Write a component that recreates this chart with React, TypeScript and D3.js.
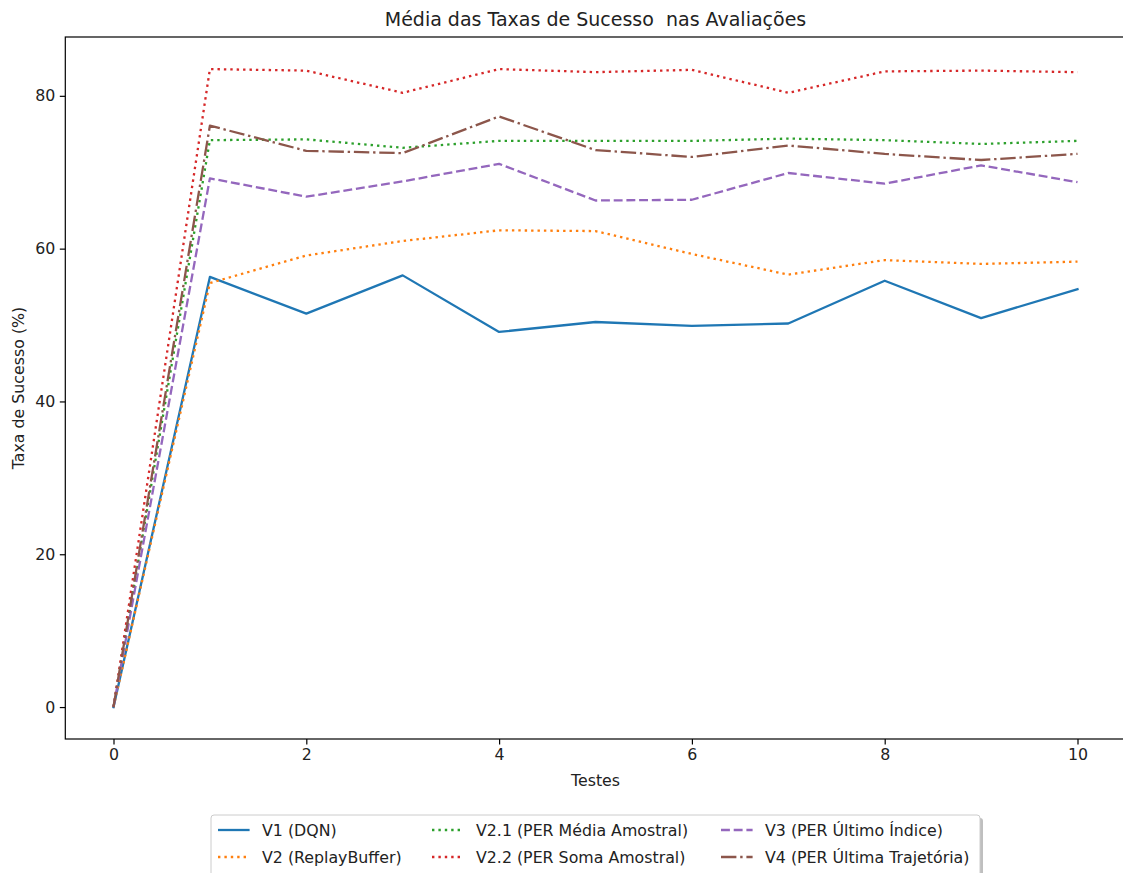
import React, { useEffect, useRef } from "react";
import * as d3 from "d3";

// values
const testes = [0, 1, 2, 3, 4, 5, 6, 7, 8, 9, 10];
const v1 = [0, 56.3, 51.5, 56.5, 49.1, 50.4, 49.9, 50.2, 55.8, 50.9, 54.7];
const v2 = [0, 55.5, 59.1, 61.0, 62.4, 62.3, 59.3, 56.6, 58.5, 58.0, 58.3];
const v21 = [0, 74.2, 74.3, 73.2, 74.1, 74.1, 74.1, 74.4, 74.2, 73.7, 74.1];
const v22 = [0, 83.5, 83.3, 80.4, 83.5, 83.1, 83.4, 80.4, 83.2, 83.3, 83.1];
const v3 = [0, 69.2, 66.8, 68.8, 71.1, 66.3, 66.4, 69.9, 68.5, 70.9, 68.7];
const v4 = [0, 76.1, 72.8, 72.5, 77.3, 72.9, 72.0, 73.5, 72.4, 71.6, 72.4];

const seriesNames = [
  "V1 (DQN)",
  "V2 (ReplayBuffer)",
  "V2.1 (PER Média Amostral)",
  "V2.2 (PER Soma Amostral)",
  "V3 (PER Último Índice)",
  "V4 (PER Última Trajetória)",
];
const seriesValues = [v1, v2, v21, v22, v3, v4];
const colors = ["#1f77b4", "#ff7f0e", "#2ca02c", "#d62728", "#9467bd", "#8c564b"];
const dashes = ["none", "2.4,4", "2.4,4", "2.4,4", "8.9,3.8", "15.4,3.8,2.4,3.8"];
const xTicks = [0, 2, 4, 6, 8, 10];
const yTicks = [0, 20, 40, 60, 80];

const FONT = "DejaVu Sans, sans-serif";
const FS = 15.8; // ticks, labels, legend

function App() {
  const ref = useRef<SVGSVGElement>(null);

  useEffect(() => {
    const svg = d3.select(ref.current);
    svg.selectAll("*").remove();

    // plot box
    var left = 65.3,
      right = 1125.7,
      top = 37,
      bottom = 739;

    var x = d3.scaleLinear().domain([-0.5, 10.5]).range([left, right]);
    var y = d3.scaleLinear().domain([-4.18, 87.7]).range([bottom, top]);

    svg.append("rect").attr("width", 1123).attr("height", 873).attr("fill", "white");

    // lines
    var line = d3
      .line<number>()
      .x((d, i) => x(testes[i]))
      .y(d => y(d));

    seriesValues.forEach((vals, i) => {
      svg
        .append("path")
        .datum(vals)
        .attr("d", line)
        .attr("fill", "none")
        .attr("stroke", colors[i])
        .attr("stroke-width", 2.3)
        .attr("stroke-dasharray", dashes[i])
        .attr("stroke-linejoin", "round")
        .attr("stroke-linecap", i === 0 ? "square" : "butt");
    });

    // spines
    svg
      .append("rect")
      .attr("x", left)
      .attr("y", top)
      .attr("width", right - left)
      .attr("height", bottom - top)
      .attr("fill", "none")
      .attr("stroke", "black")
      .attr("stroke-width", 1.2);

    // axes
    const xAxis = svg
      .append("g")
      .attr("transform", "translate(0," + bottom + ")")
      .call(d3.axisBottom(x).tickValues(xTicks).tickSize(5.5).tickPadding(4.5).tickFormat(d3.format("d")));
    const yAxis = svg
      .append("g")
      .attr("transform", "translate(" + left + ",0)")
      .call(d3.axisLeft(y).tickValues(yTicks).tickSize(5.5).tickPadding(4.5).tickFormat(d3.format("d")));
    [xAxis, yAxis].forEach(a => {
      a.select(".domain").remove();
      a.selectAll("line").attr("stroke", "black").attr("stroke-width", 1.2);
      a.selectAll("text").attr("font-family", FONT).attr("font-size", FS).attr("fill", "#222");
    });

    // title and axis labels
    svg
      .append("text")
      .attr("x", (left + right) / 2)
      .attr("y", 26)
      .attr("text-anchor", "middle")
      .attr("font-family", FONT)
      .attr("font-size", 19)
      .attr("fill", "#222")
      .style("white-space", "pre")
      .text("Média das Taxas de Sucesso  nas Avaliações");
    svg
      .append("text")
      .attr("x", (left + right) / 2)
      .attr("y", 786)
      .attr("text-anchor", "middle")
      .attr("font-family", FONT)
      .attr("font-size", FS)
      .attr("fill", "#222")
      .text("Testes");
    svg
      .append("text")
      .attr("transform", "translate(24," + (top + bottom) / 2 + ") rotate(-90)")
      .attr("text-anchor", "middle")
      .attr("font-family", FONT)
      .attr("font-size", FS)
      .attr("fill", "#222")
      .text("Taxa de Sucesso (%)");

    // legend with shadow
    var lx = 211,
      ly = 815,
      lw = 769,
      lh = 62;
    svg
      .append("rect")
      .attr("x", lx + 3)
      .attr("y", ly + 3)
      .attr("width", lw)
      .attr("height", lh)
      .attr("rx", 3)
      .attr("fill", "#808080")
      .attr("opacity", 0.5);
    svg
      .append("rect")
      .attr("x", lx)
      .attr("y", ly)
      .attr("width", lw)
      .attr("height", lh)
      .attr("rx", 3)
      .attr("fill", "white")
      .attr("stroke", "#cccccc")
      .attr("stroke-width", 1);

    var colX = [218, 432, 721];
    var rowY = [830, 857];
    seriesNames.forEach((name, i) => {
      var col = Math.floor(i / 2),
        row = i % 2;
      var hx = colX[col],
        hy = rowY[row];
      svg
        .append("line")
        .attr("x1", hx)
        .attr("x2", hx + 31.6)
        .attr("y1", hy)
        .attr("y2", hy)
        .attr("stroke", colors[i])
        .attr("stroke-width", 2.3)
        .attr("stroke-dasharray", dashes[i]);
      svg
        .append("text")
        .attr("x", hx + 44)
        .attr("y", hy + 5.5)
        .attr("font-family", FONT)
        .attr("font-size", FS)
        .attr("fill", "#222")
        .text(name);
    });
  }, []);

  return (
    <svg
      ref={ref}
      width={1123}
      height={873}
      style={{ position: "absolute", left: 0, top: 0 }}
    ></svg>
  );
}

export default App;
